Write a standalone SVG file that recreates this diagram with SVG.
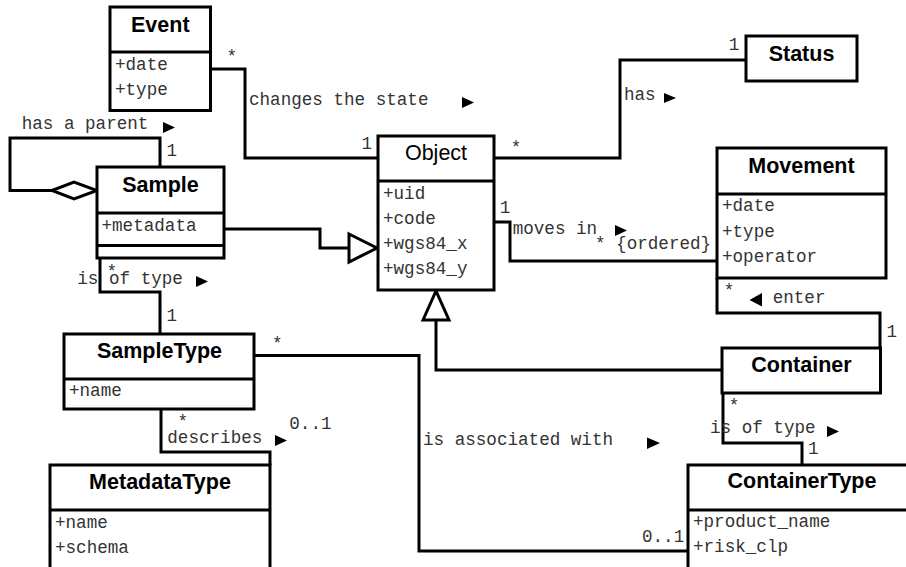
<svg xmlns="http://www.w3.org/2000/svg" width="906" height="567" viewBox="0 0 906 567">
<style>
.box{fill:#fff;stroke:#000;stroke-width:3}
.ln{fill:none;stroke:#000;stroke-width:3}
.t{font-family:"Liberation Sans",Arial,sans-serif;font-size:21.5px;font-weight:bold;text-anchor:middle;fill:#000}
.tr{font-family:"Liberation Sans",Arial,sans-serif;font-size:21.5px;text-anchor:middle;fill:#000}
.a{font-family:"Liberation Mono","Courier New",monospace;font-size:17.6px;fill:#333}
.dir{fill:#000}
.gen{fill:#fff;stroke:#000;stroke-width:3}
</style>
<rect width="906" height="567" fill="#fff"/>
<g id="connectors">
<polyline class="ln" points="210,69 245,69 245,158 378,158"/>
<polyline class="ln" points="494,158 620,158 620,60 746,60"/>
<polyline class="ln" points="160,167 160,138 10,138 10,190.5 52,190.5"/>
<polygon class="gen" points="52,190.5 74,182 97,190.5 74,199"/>
<polyline class="ln" points="224,229 320,229 320,248 349,248"/>
<polygon class="gen" points="349,234 377,248 349,262"/>
<polyline class="ln" points="494,222 510,222 510,261 717,261"/>
<polyline class="ln" points="722,370 436,370 436,320"/>
<polygon class="gen" points="423,320 436,291 449,320"/>
<polyline class="ln" points="717,278 717,313 880,313 880,348"/>
<polyline class="ln" points="100,258 100,292 160,292 160,334"/>
<polyline class="ln" points="254,355.5 419,355.5 419,551 688,551"/>
<polyline class="ln" points="161,409 161,452 270,452 270,465"/>
<polyline class="ln" points="723,393 723,443 802,443 802,465"/>
<polygon class="dir" points="462,97 474,102.5 462,108"/>
<polygon class="dir" points="664,93 676,98 664,103"/>
<polygon class="dir" points="163,122 175,127.5 163,133"/>
<polygon class="dir" points="615,225 627,230.5 615,236"/>
<polygon class="dir" points="762,293 749.5,300 762,306.5"/>
<polygon class="dir" points="827,426 839,431.5 827,437"/>
<polygon class="dir" points="196,276 208,281.5 196,287"/>
<polygon class="dir" points="647,437.5 660,443 647,449"/>
<polygon class="dir" points="275,435 287,440.5 275,446"/>
<text class="a" x="226.4" y="62">*</text>
<text class="a" x="249" y="105">changes the state</text>
<text class="a" x="361.4" y="149">1</text>
<text class="a" x="510.7" y="152.5">*</text>
<text class="a" x="624" y="100">has</text>
<text class="a" x="728.7" y="50">1</text>
<text class="a" x="21.7" y="129">has a parent</text>
<text class="a" x="166.4" y="156">1</text>
<text class="a" x="499.7" y="213">1</text>
<text class="a" x="512.7" y="234">moves in</text>
<text class="a" x="595" y="249">* {ordered}</text>
<text class="a" x="723.7" y="295.5">*</text>
<text class="a" x="772.7" y="303">enter</text>
<text class="a" x="886.4" y="337">1</text>
<text class="a" x="728.7" y="410.5">*</text>
<text class="a" x="710" y="433">is of type</text>
<text class="a" x="808" y="454">1</text>
<text class="a" x="106.4" y="277">*</text>
<text class="a" x="77.3" y="284">is of type</text>
<text class="a" x="166.4" y="321">1</text>
<text class="a" x="272" y="349">*</text>
<text class="a" x="423" y="445">is associated with</text>
<text class="a" x="642" y="542">0..1</text>
<text class="a" x="177.4" y="427">*</text>
<text class="a" x="167.3" y="443">describes</text>
<text class="a" x="289.3" y="429">0..1</text>
</g>
<g id="Event">
<rect class="box" x="110" y="7" width="100.5" height="103.5"/>
<line class="ln" x1="110" y1="52" x2="210.5" y2="52"/>
<text class="t" x="160.3" y="32">Event</text>
<text class="a" x="115" y="70">+date</text>
<text class="a" x="115" y="95">+type</text>
</g>
<g id="Sample">
<rect class="box" x="97" y="167" width="127" height="91"/>
<line class="ln" x1="97" y1="213" x2="224" y2="213"/>
<line class="ln" x1="97" y1="245.5" x2="224" y2="245.5"/>
<text class="t" x="160.5" y="192">Sample</text>
<text class="a" x="101.5" y="231">+metadata</text>
</g>
<g id="Object">
<rect class="box" x="378" y="136" width="116" height="154"/>
<line class="ln" x1="378" y1="181" x2="494" y2="181"/>
<text class="tr" x="436" y="160">Object</text>
<text class="a" x="383" y="199">+uid</text>
<text class="a" x="383" y="224">+code</text>
<text class="a" x="383" y="249">+wgs84_x</text>
<text class="a" x="383" y="274">+wgs84_y</text>
</g>
<g id="Status">
<rect class="box" x="746" y="36" width="111" height="45"/>
<text class="t" x="801.5" y="61">Status</text>
</g>
<g id="Movement">
<rect class="box" x="717" y="148" width="169" height="130"/>
<line class="ln" x1="717" y1="194" x2="886" y2="194"/>
<text class="t" x="801.5" y="173">Movement</text>
<text class="a" x="722" y="211">+date</text>
<text class="a" x="722" y="236.5">+type</text>
<text class="a" x="722" y="262">+operator</text>
</g>
<g id="Container">
<rect class="box" x="722" y="348" width="158.5" height="45"/>
<text class="t" x="801.5" y="372">Container</text>
</g>
<g id="SampleType">
<rect class="box" x="64" y="334" width="190" height="75"/>
<line class="ln" x1="64" y1="379" x2="254" y2="379"/>
<text class="t" x="159.5" y="358">SampleType</text>
<text class="a" x="69" y="396">+name</text>
</g>
<g id="MetadataType">
<rect class="box" x="50" y="465" width="220" height="110"/>
<line class="ln" x1="50" y1="510" x2="270" y2="510"/>
<text class="t" x="160" y="489">MetadataType</text>
<text class="a" x="55" y="527.5">+name</text>
<text class="a" x="55" y="552.5">+schema</text>
</g>
<g id="ContainerType">
<rect class="box" x="688" y="465" width="228" height="110"/>
<line class="ln" x1="688" y1="510" x2="916" y2="510"/>
<text class="t" x="802" y="488">ContainerType</text>
<text class="a" x="693" y="527">+product_name</text>
<text class="a" x="693" y="552">+risk_clp</text>
</g>
</svg>
